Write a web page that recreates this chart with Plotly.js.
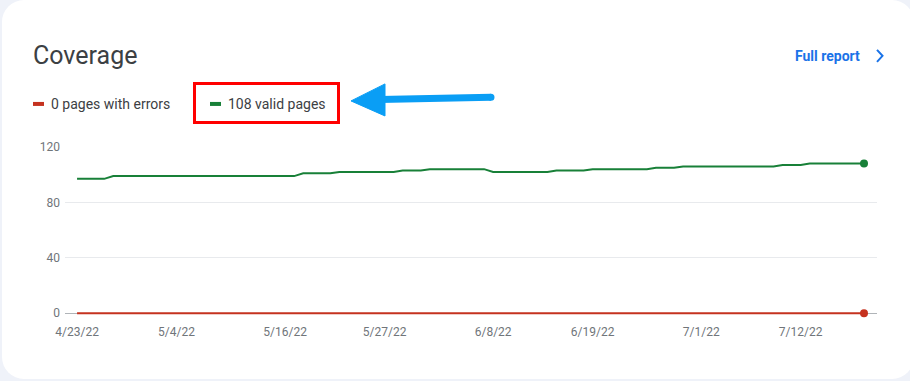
<!DOCTYPE html>
<html>
<head>
<meta charset="utf-8">
<script src="https://cdn.plot.ly/plotly-3.0.1.min.js"></script>
<style>
  html, body { margin: 0; padding: 0; width: 910px; height: 381px; background: #eff2f9; overflow: hidden; }
  #card { position: absolute; left: 2px; top: 0px; width: 912px; height: 379px; background: #ffffff; border-radius: 22px; }
  #chart { position: absolute; left: 0; top: 0; width: 910px; height: 381px; }
</style>
</head>
<body>
<div id="card"></div>
<div id="chart"></div>
<script>
// ---- Data ----
const dates = [
  '2022-04-23','2022-04-24','2022-04-25','2022-04-26','2022-04-27','2022-04-28','2022-04-29','2022-04-30',
  '2022-05-01','2022-05-02','2022-05-03','2022-05-04','2022-05-05','2022-05-06','2022-05-07','2022-05-08',
  '2022-05-09','2022-05-10','2022-05-11','2022-05-12','2022-05-13','2022-05-14','2022-05-15','2022-05-16',
  '2022-05-17','2022-05-18','2022-05-19','2022-05-20','2022-05-21','2022-05-22','2022-05-23','2022-05-24',
  '2022-05-25','2022-05-26','2022-05-27','2022-05-28','2022-05-29','2022-05-30','2022-05-31',
  '2022-06-01','2022-06-02','2022-06-03','2022-06-04','2022-06-05','2022-06-06','2022-06-07','2022-06-08',
  '2022-06-09','2022-06-10','2022-06-11','2022-06-12','2022-06-13','2022-06-14','2022-06-15','2022-06-16',
  '2022-06-17','2022-06-18','2022-06-19','2022-06-20','2022-06-21','2022-06-22','2022-06-23','2022-06-24',
  '2022-06-25','2022-06-26','2022-06-27','2022-06-28','2022-06-29','2022-06-30',
  '2022-07-01','2022-07-02','2022-07-03','2022-07-04','2022-07-05','2022-07-06','2022-07-07','2022-07-08',
  '2022-07-09','2022-07-10','2022-07-11','2022-07-12','2022-07-13','2022-07-14','2022-07-15','2022-07-16',
  '2022-07-17','2022-07-18','2022-07-19'
];
const validPages = [
  97,97,97,97,
  99,99,99,99,99,99,99,99,99,99,99,99,99,99,99,99,99,99,99,99,99,
  101,101,101,101,
  102,102,102,102,102,102,102,
  103,103,103,
  104,104,104,104,104,104,104,
  102,102,102,102,102,102,102,
  103,103,103,103,
  104,104,104,104,104,104,104,
  105,105,105,
  106,106,106,106,106,106,106,106,106,106,106,
  107,107,107,
  108,108,108,108,108,108,108
];
const errorPages = [
  0,0,0,0,0,0,0,0,0,0,0,0,0,0,0,0,0,0,0,0,0,0,
  0,0,0,0,0,0,0,0,0,0,0,0,0,0,0,0,0,0,0,0,0,0,
  0,0,0,0,0,0,0,0,0,0,0,0,0,0,0,0,0,0,0,0,0,0,
  0,0,0,0,0,0,0,0,0,0,0,0,0,0,0,0,0,0,0,0,0,0
];
const tickDates = ['2022-04-23','2022-05-04','2022-05-16','2022-05-27','2022-06-08','2022-06-19','2022-07-01','2022-07-12'];
const tickLabels = ['4/23/22','5/4/22','5/16/22','5/27/22','6/8/22','6/19/22','7/1/22','7/12/22'];
const yTicks = [0, 40, 80, 120];
const titleText = 'Coverage';
const errorLabel = '0 pages with errors';
const validLabel = '108 valid pages';
const linkText = 'Full report';

// ---- Colours ----
const GREEN = '#188038';
const RED = '#c5321f';
const BLUE_LINK = '#1a73e8';
const ARROW = '#0a9ef5';

// ---- Geometry helpers (plot area in pixels) ----
const W = 910, H = 381;
const YMIN = -2, YMAX = 120;
const pxPerUnit = (313 - 147) / 120;
const plotBottom = 313 + (0 - YMIN) * pxPerUnit;
const M = { l: 65, r: 33, t: 147, b: H - plotBottom };
const PW = W - M.l - M.r, PH = H - M.t - M.b;
const px = x => (x - M.l) / PW;
const py = y => (H - M.b - y) / PH;

const last = dates.length - 1;

const traces = [
  { x: dates, y: errorPages, type: 'scatter', mode: 'lines', name: errorLabel,
    line: { color: RED, width: 2.2 }, cliponaxis: false, hoverinfo: 'x+y' },
  { x: dates, y: validPages, type: 'scatter', mode: 'lines', name: validLabel,
    line: { color: GREEN, width: 2 }, cliponaxis: false, hoverinfo: 'x+y' },
  { x: [dates[last]], y: [errorPages[last]], type: 'scatter', mode: 'markers',
    marker: { color: RED, size: 8 }, cliponaxis: false, showlegend: false },
  { x: [dates[last]], y: [validPages[last]], type: 'scatter', mode: 'markers',
    marker: { color: GREEN, size: 8 }, cliponaxis: false, showlegend: false }
];

const font = 'Roboto, Arial, sans-serif';

const shapes = [
  // legend dashes
  { type: 'rect', xref: 'paper', yref: 'paper', x0: px(33), x1: px(44), y0: py(102), y1: py(106),
    fillcolor: RED, line: { width: 0 } },
  { type: 'rect', xref: 'paper', yref: 'paper', x0: px(210), x1: px(221), y0: py(102), y1: py(106),
    fillcolor: GREEN, line: { width: 0 } },
  // red highlight box
  { type: 'rect', xref: 'paper', yref: 'paper', x0: px(194.5), x1: px(338.5), y0: py(83.5), y1: py(122.5),
    line: { color: '#ff0000', width: 3 }, fillcolor: 'rgba(0,0,0,0)' },
  // arrow shaft
  { type: 'line', xref: 'paper', yref: 'paper', x0: px(380), y0: py(99.5), x1: px(491), y1: py(97.3),
    line: { color: ARROW, width: 7 } },
  { type: 'circle', xref: 'paper', yref: 'paper', x0: px(487.5), x1: px(494.5), y0: py(93.8), y1: py(100.8),
    fillcolor: ARROW, line: { width: 0 } },
  // arrow head
  { type: 'path', xref: 'paper', yref: 'paper',
    path: `M ${px(351)} ${py(101)} L ${px(385)} ${py(84)} L ${px(385)} ${py(116)} Z`,
    fillcolor: ARROW, line: { color: ARROW, width: 1 } },
  // chevron
  { type: 'path', xref: 'paper', yref: 'paper',
    path: `M ${px(877)} ${py(50)} L ${px(882.5)} ${py(56)} L ${px(877)} ${py(62)}`,
    line: { color: BLUE_LINK, width: 2 } }
];

const annotations = [
  { text: titleText, xref: 'paper', yref: 'paper', x: px(31), y: py(56), xanchor: 'left', yanchor: 'middle',
    showarrow: false, font: { family: font, size: 25, color: '#3c4043' } },
  { text: errorLabel, xref: 'paper', yref: 'paper', x: px(49), y: py(104.5), xanchor: 'left', yanchor: 'middle',
    showarrow: false, font: { family: font, size: 14, color: '#3c4043' } },
  { text: validLabel, xref: 'paper', yref: 'paper', x: px(226), y: py(104.5), xanchor: 'left', yanchor: 'middle',
    showarrow: false, font: { family: font, size: 14, color: '#3c4043' } },
  { text: '<b>' + linkText + '</b>', xref: 'paper', yref: 'paper', x: px(793), y: py(56), xanchor: 'left', yanchor: 'middle',
    showarrow: false, font: { family: font, size: 14, color: BLUE_LINK, weight: 500 } }
];

const layout = {
  width: W, height: H,
  margin: M,
  paper_bgcolor: 'rgba(0,0,0,0)',
  plot_bgcolor: 'rgba(0,0,0,0)',
  showlegend: false,
  font: { family: font, size: 12, color: '#70757a' },
  xaxis: {
    type: 'date',
    range: ['2022-04-21 16:00', '2022-07-20 10:30'],
    tickvals: tickDates,
    ticktext: tickLabels,
    showgrid: false,
    zeroline: false,
    showline: false,
    ticks: '',
    ticklabelstandoff: 7,
    tickfont: { family: font, size: 12, color: '#70757a' },
    fixedrange: true
  },
  yaxis: {
    range: [YMIN, YMAX],
    tickvals: yTicks,
    showgrid: true,
    gridcolor: '#e8eaed',
    gridwidth: 1,
    zeroline: true,
    zerolinecolor: '#b0b4b8',
    zerolinewidth: 1,
    showline: false,
    ticks: '',
    ticklabelstandoff: 4,
    tickfont: { family: font, size: 12, color: '#70757a' },
    fixedrange: true
  },
  shapes: shapes,
  annotations: annotations
};

Plotly.newPlot('chart', traces, layout, { displayModeBar: false });
</script>
</body>
</html>
